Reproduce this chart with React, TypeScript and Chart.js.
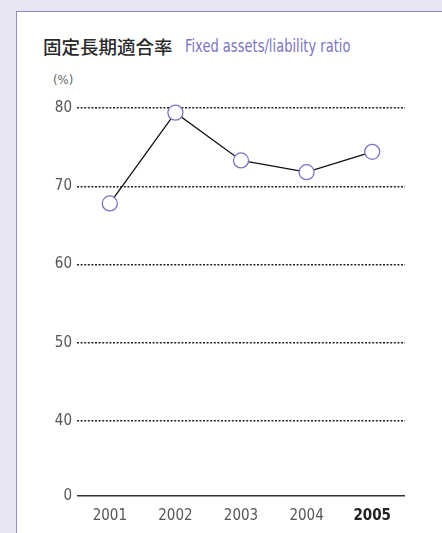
import React, { useEffect, useRef } from "react";
import { Chart, registerables } from "chart.js";

Chart.register(...registerables);

const years = ["2001", "2002", "2003", "2004", "2005"];
const ratio = [67.8, 79.4, 73.3, 71.8, 74.4];
const yTicks = [40, 50, 60, 70, 80];
const axisBreakMin = 30.4; // bottom of axis, labelled "0"

const NARROW = "'DejaVu Sans Condensed', 'DejaVu Sans', sans-serif";

export default function App() {
  const ref = useRef<HTMLCanvasElement>(null);

  useEffect(() => {
    document.body.style.margin = "0";
    const ctx = ref.current!.getContext("2d")!;
    const chart = new Chart(ctx, {
      type: "line",
      data: {
        labels: years,
        datasets: [
          {
            data: ratio,
            borderColor: "#111",
            borderWidth: 1.3,
            pointRadius: 7.5,
            pointBorderWidth: 1.3,
            pointBorderColor: "#7b74c0",
            pointBackgroundColor: "#fff",
            tension: 0,
            clip: false as any,
          },
        ],
      },
      options: {
        animation: false,
        responsive: false,
        plugins: { legend: { display: false }, tooltip: { enabled: false } },
        layout: { padding: { top: 108, right: 37, left: 0, bottom: 0 } },
        scales: {
          x: {
            offset: true,
            grid: { display: false, drawTicks: false },
            border: { display: false },
            ticks: {
              padding: 11,
              color: (c: any) => (c.index === 4 ? "#222" : "#555"),
              font: (c: any) => ({
                family: NARROW,
                size: 15,
                style: "condensed" as any,
                weight: c.index === 4 ? "bold" : "normal",
              }),
            },
            afterFit: (s: any) => {
              s.height = 37;
            },
          },
          y: {
            min: axisBreakMin,
            max: 80,
            afterBuildTicks: (s: any) => {
              s.ticks = [axisBreakMin, ...yTicks].map((v) => ({ value: v }));
            },
            afterFit: (s: any) => {
              s.width = 77;
            },
            grid: {
              drawTicks: false,
              color: (c: any) => (c.index === 0 ? "#333" : "#222"),
              lineWidth: (c: any) => (c.index === 0 ? 1.5 : 1.4),
            },
            border: {
              display: false,
              dash: (c: any) => (c.index === 0 ? [] : [2, 1.6]),
            },
            ticks: {
              padding: 5,
              color: "#555",
              font: { family: NARROW, size: 15, style: "condensed" as any },
              callback: (v: any) => (v === axisBreakMin ? "0" : String(v)),
            },
          },
        },
      },
    });
    return () => chart.destroy();
  }, []);

  return (
    <div
      style={{
        position: "fixed",
        left: 0,
        top: 0,
        width: 442,
        height: 533,
        background: "#e7e5f1",
        overflow: "hidden",
      }}
    >
      <div
        style={{
          position: "absolute",
          left: 16,
          top: 11,
          width: 440,
          height: 540,
          background: "#fff",
          border: "1px solid #938cd0",
        }}
      />
      <div
        style={{
          position: "absolute",
          left: 43,
          top: 34,
          whiteSpace: "nowrap",
          lineHeight: "24px",
          fontFamily: "'Noto Sans CJK JP', sans-serif",
          fontSize: 18.5,
          fontWeight: 500,
          color: "#2a2a2a",
        }}
      >
        固定長期適合率
      </div>
      <div
        style={{
          position: "absolute",
          left: 185,
          top: 34,
          whiteSpace: "nowrap",
          lineHeight: "24px",
          fontFamily: NARROW,
          fontStretch: "condensed",
          fontSize: 17.5,
          color: "#7b74c0",
          transform: "scaleX(0.83)",
          transformOrigin: "left center",
        }}
      >
        Fixed assets/liability ratio
      </div>
      <div
        style={{
          position: "absolute",
          left: 53,
          top: 72,
          fontFamily: NARROW,
          fontStretch: "condensed",
          fontSize: 13,
          color: "#666",
          lineHeight: "16px",
        }}
      >
        (%)
      </div>
      <canvas
        ref={ref}
        width={442}
        height={533}
        style={{ position: "absolute", left: 0, top: 0, width: 442, height: 533 }}
      />
    </div>
  );
}
